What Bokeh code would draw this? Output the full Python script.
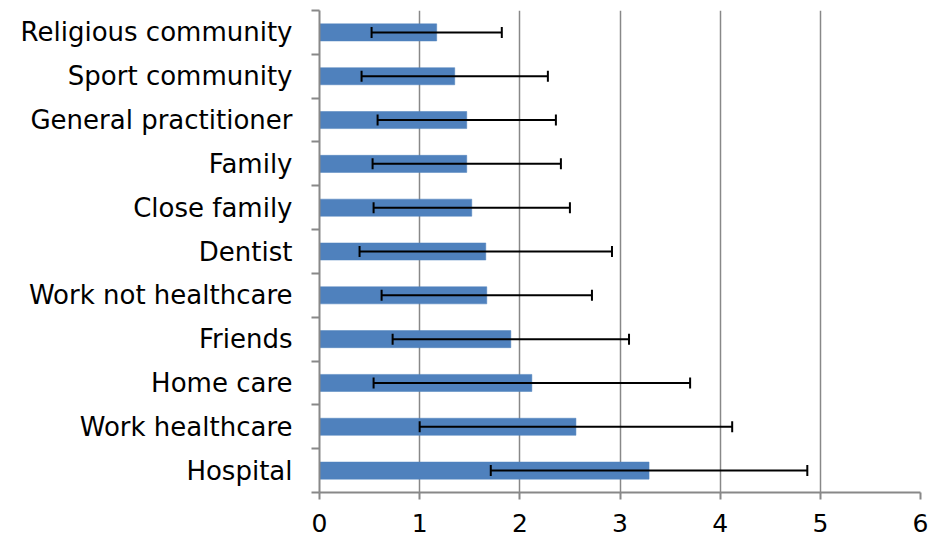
from bokeh.plotting import figure
from bokeh.models import ColumnDataSource, Whisker, TeeHead, FixedTicker, Range1d
from bokeh.embed import file_html
from bokeh.resources import INLINE

# Data (bottom to top as drawn)
categories = ["Hospital", "Work healthcare", "Home care", "Friends",
              "Work not healthcare", "Dentist", "Close family", "Family",
              "General practitioner", "Sport community", "Religious community"]
means = [3.29, 2.56, 2.12, 1.91, 1.67, 1.66, 1.52, 1.47, 1.47, 1.35, 1.17]
sds = [1.58, 1.56, 1.58, 1.18, 1.05, 1.26, 0.98, 0.94, 0.89, 0.93, 0.65]
x_ticks = [0, 1, 2, 3, 4, 5, 6]

n = len(categories)
centers = [i + 0.5 for i in range(n)]
bounds = list(range(n + 1))

src = ColumnDataSource(dict(
    y=centers, mean=means,
    lo=[m - s for m, s in zip(means, sds)],
    hi=[m + s for m, s in zip(means, sds)],
))

GRAY = "#888888"
FONT = "DejaVu Sans"

p = figure(width=928, height=536, output_backend="svg", toolbar_location=None,
           x_range=Range1d(0, 6), y_range=Range1d(0, n),
           min_border_left=319, min_border_right=8, min_border_top=10, min_border_bottom=44)
p.outline_line_color = None
p.background_fill_color = "white"
p.border_fill_color = "white"

p.hbar(y="y", left=0, right="mean", height=0.39, source=src,
       fill_color="#4F81BD", line_color="#4F81BD", line_width=0.5)

wh = Whisker(source=src, base="y", lower="lo", upper="hi", dimension="width",
             line_color="black", line_width=2, level="annotation",
             upper_head=TeeHead(size=11, line_color="black", line_width=2),
             lower_head=TeeHead(size=11, line_color="black", line_width=2))
p.add_layout(wh)

# x axis
p.xaxis.ticker = FixedTicker(ticks=x_ticks)
p.xaxis.axis_line_color = GRAY
p.xaxis.axis_line_width = 2
p.xaxis.major_tick_line_color = GRAY
p.xaxis.major_tick_line_width = 2
p.xaxis.major_tick_out = 7
p.xaxis.major_tick_in = 0
p.xaxis.minor_tick_line_color = None
p.xaxis.major_label_text_font = FONT
p.xaxis.major_label_text_font_size = "25px"
p.xaxis.major_label_text_color = "black"
p.xaxis.major_label_standoff = 14

# y axis: labels at centres, ticks at boundaries
p.yaxis.ticker = FixedTicker(ticks=centers, minor_ticks=bounds)
p.yaxis.major_label_overrides = {c: name for c, name in zip(centers, categories)}
p.yaxis.axis_line_color = GRAY
p.yaxis.axis_line_width = 2
p.yaxis.major_tick_line_color = None
p.yaxis.major_tick_out = 0
p.yaxis.major_tick_in = 0
p.yaxis.minor_tick_line_color = GRAY
p.yaxis.minor_tick_line_width = 2
p.yaxis.minor_tick_out = 8
p.yaxis.minor_tick_in = 0
p.yaxis.major_label_text_font = FONT
p.yaxis.major_label_text_font_size = "26px"
p.yaxis.major_label_text_color = "black"
p.yaxis.major_label_standoff = 19

p.xgrid.ticker = FixedTicker(ticks=x_ticks)
p.xgrid.grid_line_color = GRAY
p.xgrid.grid_line_width = 1.5
p.ygrid.visible = False

open("out.html", "w").write(file_html(p, INLINE))
